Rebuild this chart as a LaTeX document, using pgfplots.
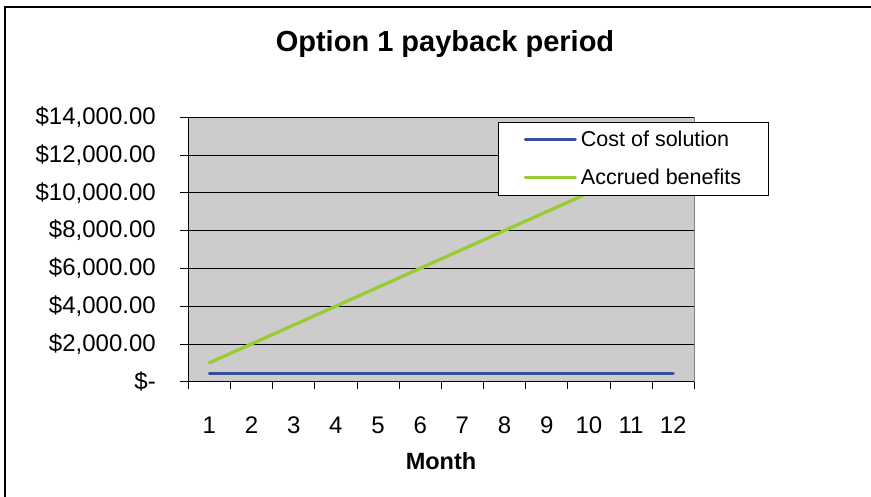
\documentclass[border=0pt]{standalone}
\usepackage{fontspec}
\setmainfont{Liberation Sans}
\usepackage{pgfplots}
\pgfplotsset{compat=1.18}
\definecolor{costblue}{RGB}{51,80,160}
\definecolor{benefitgreen}{RGB}{153,204,51}
\definecolor{plotgray}{RGB}{204,204,204}
\begin{document}
\begin{tikzpicture}[x=1pt,y=1pt]
\path[use as bounding box] (0,0) rectangle (871,497);
\draw[black, line width=1.6pt] (5,0) -- (5,490) -- (871,490);
\node[font=\fontsize{29}{34}\selectfont\bfseries] at (445,453) {Option 1 payback period};
\node[font=\fontsize{23.5}{28}\selectfont\bfseries] at (441,36) {Month};
\begin{axis}[
  at={(188.3pt,115.3pt)}, anchor=south west,
  width=506pt, height=264.5pt, scale only axis,
  xmin=0.5, xmax=12.5, ymin=0, ymax=14000,
  scaled y ticks=false, scaled x ticks=false,
  axis background/.style={fill=plotgray, draw=gray, line width=0.8pt},
  axis x line*=bottom, axis y line*=left,
  axis line style={black, line width=0.9pt},
  xtick={1,...,12},
  xticklabels={1,2,3,4,5,6,7,8,9,10,11,12},
  major x tick style={draw=none},
  minor xtick={0.5,1.5,...,12.5},
  minor tick length=7.5pt,
  minor x tick style={black, line width=0.8pt},
  ytick={0,2000,...,14000},
  yticklabels={{\$-},{\$2,000.00},{\$4,000.00},{\$6,000.00},{\$8,000.00},{\$10,000.00},{\$12,000.00},{\$14,000.00}},
  major tick length=8pt,
  tick align=outside,
  major y tick style={black, line width=0.8pt},
  ymajorgrids=true,
  major grid style={black, line width=0.8pt},
  tick label style={font=\fontsize{24}{28}\selectfont},
  xticklabel style={anchor=base, yshift=-44pt},
  yticklabel style={anchor=east, xshift=-21pt},
  legend style={at={(0.6126,0.983)}, anchor=north west, draw=black, fill=white,
    line width=0.8pt, font=\fontsize{21.5}{26}\selectfont,
    inner xsep=25pt, inner ysep=7pt, row sep=17pt,
    nodes={inner sep=2pt}},
  legend cell align=left,
  legend image code/.code={\draw[#1] (0pt,0pt) -- (50pt,0pt); \path (52pt,0pt);},
  clip=false,
]
\addplot[costblue, line width=3.3pt, line cap=round] coordinates {
(1,450) (2,450) (3,450) (4,450) (5,450) (6,450) (7,450) (8,450) (9,450) (10,450) (11,450) (12,450)};
\addlegendentry{Cost of solution}
\addplot[benefitgreen, line width=3.3pt, line cap=round] coordinates {
(1,1000) (2,2000) (3,3000) (4,4000) (5,5000) (6,6000) (7,7000) (8,8000) (9,9000) (10,10000) (11,11000) (12,12000)};
\addlegendentry{Accrued benefits}
\end{axis}
\end{tikzpicture}
\end{document}
